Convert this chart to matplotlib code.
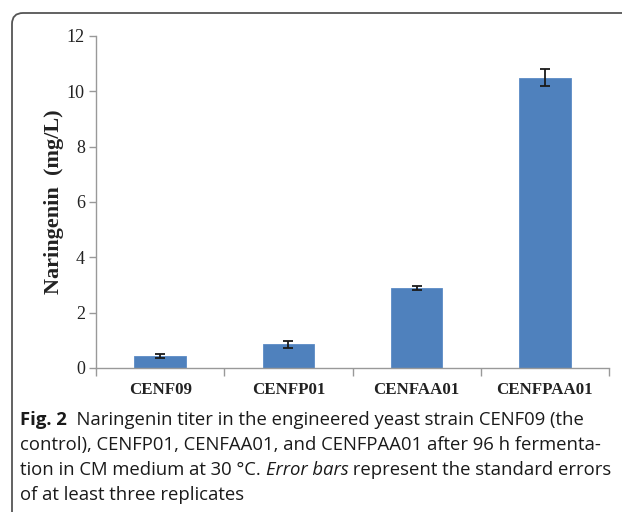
import matplotlib
matplotlib.use("Agg")
import matplotlib.pyplot as plt
from matplotlib.patches import FancyBboxPatch
from matplotlib.transforms import IdentityTransform
from matplotlib.ticker import FixedLocator, NullFormatter

# data
strains = ["CENF09", "CENFP01", "CENFAA01", "CENFPAA01"]
titer = [0.42, 0.86, 2.88, 10.50]
sem = [0.07, 0.12, 0.07, 0.32]
yticks = [0, 2, 4, 6, 8, 10, 12]

caption_lines = [
    [("Fig. 2", "bold", "normal"),
     ("  Naringenin titer in the engineered yeast strain CENF09 (the", "normal", "normal")],
    [("control), CENFP01, CENFAA01, and CENFPAA01 after 96 h fermenta-", "normal", "normal")],
    [("tion in CM medium at 30 \u00b0C. ", "normal", "normal"),
     ("Error bars", "normal", "italic"),
     (" represent the standard errors", "normal", "normal")],
    [("of at least three replicates", "normal", "normal")],
]

fig = plt.figure(figsize=(6.22, 5.12), dpi=100)
ax = fig.add_axes([96 / 622, 1 - 368 / 512, 513 / 622, 332 / 512])

x = list(range(len(strains)))
ax.bar(x, titer, width=0.4, color="#4F81BD", edgecolor="#5B8BC6", linewidth=0.6, zorder=2)
ax.errorbar(x, titer, yerr=sem, fmt="none", ecolor="#1a1a1a", elinewidth=1.3,
            capsize=3.5, capthick=1.3, zorder=3)

ax.set_xlim(-0.5, len(strains) - 0.5)
ax.set_ylim(0, 12)
ax.set_yticks(yticks)
ax.set_xticks(x)
ax.set_xticklabels(strains, fontfamily="Liberation Serif", fontweight="bold", fontsize=12.2)
ax.xaxis.set_minor_locator(FixedLocator([i - 0.5 for i in range(len(strains) + 1)]))
ax.xaxis.set_minor_formatter(NullFormatter())
ax.tick_params(axis="x", which="major", length=0, pad=10, colors="#222222")
ax.tick_params(axis="x", which="minor", length=6, color="#999999", width=1)
ax.tick_params(axis="y", length=5, color="#999999", width=1, labelsize=13, pad=3,
               labelcolor="#222222")
for lab in ax.get_yticklabels():
    lab.set_fontfamily("Liberation Serif")

ax.set_ylabel("Naringenin  (mg/L)", fontfamily="Liberation Serif", fontweight="bold",
              fontsize=16, labelpad=2, color="#222222")

for side in ["top", "right"]:
    ax.spines[side].set_visible(False)
for side in ["left", "bottom"]:
    ax.spines[side].set_color("#999999")
    ax.spines[side].set_linewidth(1)

# rounded frame around the figure panel
frame = FancyBboxPatch((12, -30), 700, 512 - 13 + 30, boxstyle="round,pad=0,rounding_size=11",
                       transform=IdentityTransform(), fill=False, edgecolor="#555555",
                       linewidth=1.3)
fig.patches.append(frame)

# caption, built piece by piece
fig.canvas.draw()
renderer = fig.canvas.get_renderer()
line_y = [420, 445, 470, 495]
for parts, yy in zip(caption_lines, line_y):
    xpos = 20
    for txt, weight, style in parts:
        t = fig.text(xpos / 622, 1 - yy / 512, txt, fontfamily="Open Sans", fontsize=13.3,
                     fontweight=weight, fontstyle=style, va="center", ha="left",
                     color="#1a1a1a")
        bb = t.get_window_extent(renderer)
        xpos += bb.width

fig.savefig("out.png", dpi=100)
